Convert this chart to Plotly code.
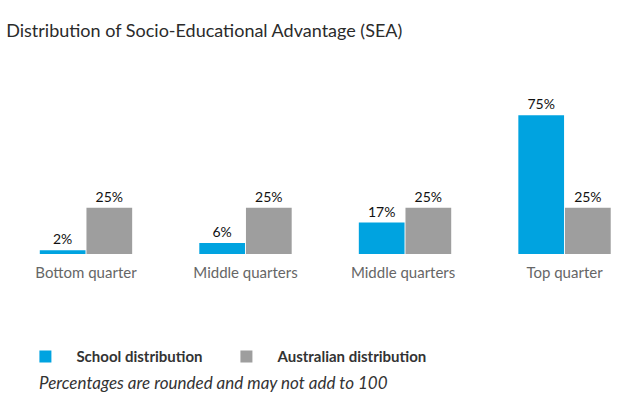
import plotly.graph_objects as go

categories = ["Bottom quarter", "Middle quarters", "Middle quarters ", "Top quarter"]
school_values = [2, 6, 17, 75]
australian_values = [25, 25, 25, 25]
series_names = ["School distribution", "Australian distribution"]
title_text = "Distribution of Socio-Educational Advantage (SEA)"
footnote_text = "Percentages are rounded and may not add to 100"

BLUE = "#00A3E0"
GRAY = "#9E9E9E"
FONT = "Lato"

fig = go.Figure()
fig.add_trace(go.Bar(
    x=categories, y=school_values, name=series_names[0], legend="legend",
    marker=dict(color=BLUE, line=dict(width=0)),
    text=[f"{v}%" for v in school_values], textposition="outside",
    textfont=dict(family=FONT, size=14, color="#111111"),
    cliponaxis=False, hoverinfo="skip",
))
fig.add_trace(go.Bar(
    x=categories, y=australian_values, name=series_names[1], legend="legend2",
    marker=dict(color=GRAY, line=dict(width=0)),
    text=[f"{v}%" for v in australian_values], textposition="outside",
    textfont=dict(family=FONT, size=14, color="#111111"),
    cliponaxis=False, hoverinfo="skip",
))

legend_common = dict(orientation="h", xanchor="left", y=-0.694, yanchor="middle",
                     font=dict(family=FONT, size=15, color="#333333", weight="bold"),
                     itemwidth=52, itemclick=False, itemdoubleclick=False)

fig.update_layout(
    width=621, height=399,
    margin=dict(l=0, r=0, t=106, b=145),
    paper_bgcolor="white", plot_bgcolor="white",
    barmode="group", bargap=0.415, bargroupgap=0.02,
    font=dict(family=FONT, color="#333333"),
    title=dict(text=title_text, x=0.010, xanchor="left", y=0.922, yanchor="middle",
               font=dict(family=FONT, size=18, color="#2b2b2b")),
    showlegend=True,
    legend=dict(x=0.0232, **legend_common),
    legend2=dict(x=0.3469, **legend_common),
    xaxis=dict(type="category", range=[-0.539, 3.354], showgrid=False, zeroline=False,
               showline=False, ticks="", ticklabelstandoff=8,
               tickfont=dict(family=FONT, size=15, color="#666666")),
    yaxis=dict(range=[0, 80], visible=False),
    annotations=[dict(text=footnote_text, xref="paper", yref="paper", x=0.059, xanchor="left",
                      y=-0.87, yanchor="middle", showarrow=False,
                      font=dict(family=FONT, size=17, color="#333333", style="italic"))],
)

fig.write_html("out.html", config={"displayModeBar": False},
               post_script="document.body.style.margin='0';")
